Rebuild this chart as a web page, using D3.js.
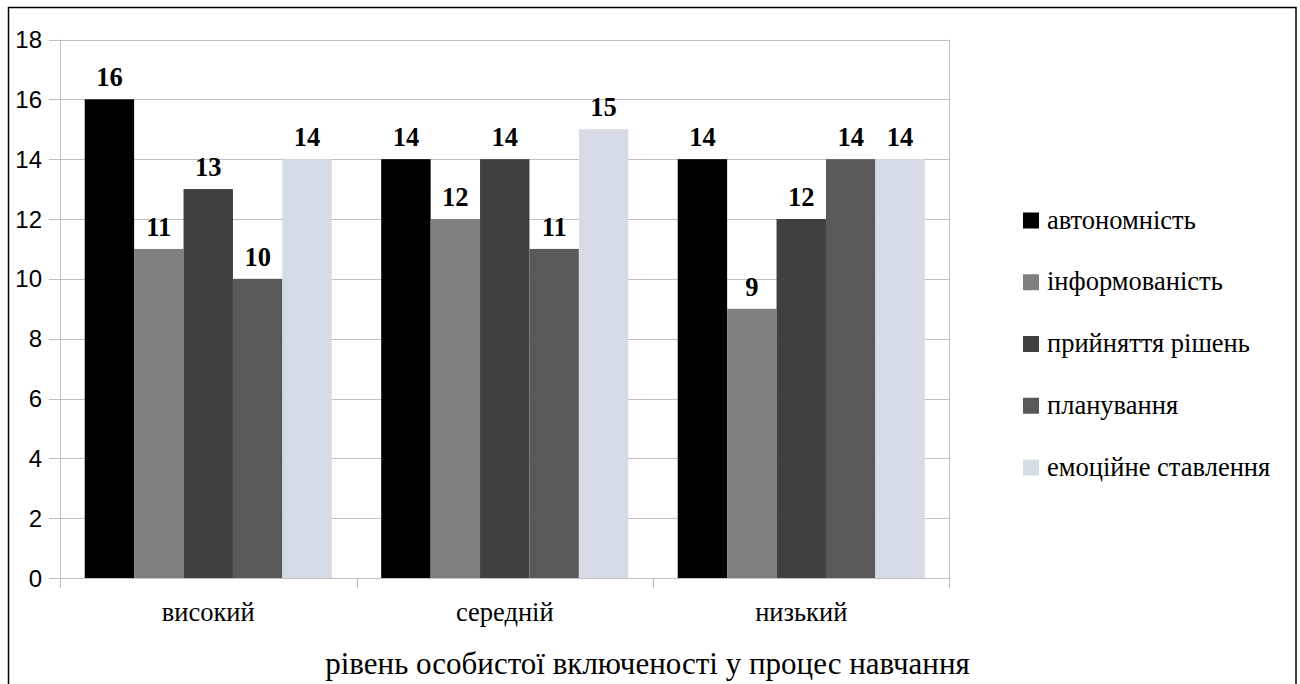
<!DOCTYPE html>
<html>
<head>
<meta charset="utf-8">
<script src="https://cdn.jsdelivr.net/npm/d3@7"></script>
<style>
  body { margin: 0; background: #fff; }
  svg { display: block; }
  .serif { font-family: "Liberation Serif"; }
  .sans { font-family: "Liberation Sans"; }
</style>
</head>
<body>
<div id="chart"></div>
<script>
// data
const levels = ["високий", "середній", "низький"];
const seriesNames = ["автономність", "інформованість", "прийняття рішень", "планування", "емоційне ставлення"];
const seriesColors = ["#000000", "#808080", "#404040", "#595959", "#d6dce5"];
const autonomy = [16, 14, 14];
const awareness = [11, 12, 9];
const decisions = [13, 14, 12];
const planning = [10, 11, 14];
const emotional = [14, 15, 14];
const yTicks = [0, 2, 4, 6, 8, 10, 12, 14, 16, 18];
const xTitle = "рівень особистої включеності у процес навчання";

const seriesValues = [autonomy, awareness, decisions, planning, emotional];

const W = 1300, H = 684;
const plot = {left: 60, top: 39.5, right: 949.5, bottom: 578};

const svg = d3.select("#chart").append("svg")
    .attr("width", W)
    .attr("height", H);

// outer frame
svg.append("rect")
    .attr("x", 8.5).attr("y", 7.5)
    .attr("width", 1287.5).attr("height", 700)
    .attr("fill", "none")
    .attr("stroke", "#000")
    .attr("stroke-width", 1.5);

let x0 = d3.scaleBand()
    .domain(levels)
    .range([plot.left, plot.right])
    .paddingInner(0)
    .paddingOuter(0);

let x1 = d3.scaleBand()
    .domain(seriesNames)
    .range([0, x0.bandwidth()])
    .paddingOuter(0.5)
    .paddingInner(0);

let y = d3.scaleLinear()
    .domain([0, 18])
    .range([plot.bottom, plot.top]);

// gridlines
svg.append("g")
    .selectAll("line")
    .data(yTicks)
    .enter()
    .append("line")
    .attr("x1", plot.left - 11)
    .attr("x2", plot.right)
    .attr("y1", d => Math.round(y(d)) + 0.5)
    .attr("y2", d => Math.round(y(d)) + 0.5)
    .attr("stroke", "#c0c0c0")
    .attr("stroke-width", 1);

// right border of plot area
svg.append("line")
    .attr("x1", plot.right).attr("x2", plot.right)
    .attr("y1", plot.top).attr("y2", plot.bottom + 10)
    .attr("stroke", "#c0c0c0");

// y axis labels
svg.append("g")
    .selectAll("text")
    .data(yTicks)
    .enter()
    .append("text")
    .attr("class", "sans")
    .attr("x", 42)
    .attr("y", d => y(d) + 8.5)
    .attr("text-anchor", "end")
    .style("font-size", "24px")
    .text(d => d);

// bars
const groups = svg.append("g")
    .selectAll("g")
    .data(levels)
    .enter()
    .append("g")
    .attr("transform", d => "translate(" + x0(d) + ",0)");

groups.selectAll("rect")
    .data((d, i) => seriesNames.map((s, j) => ({series: s, value: seriesValues[j][i], color: seriesColors[j]})))
    .enter()
    .append("rect")
    .attr("x", d => x1(d.series))
    .attr("y", d => y(d.value))
    .attr("width", x1.bandwidth())
    .attr("height", d => y(0) - y(d.value))
    .style("fill", d => d.color);

groups.selectAll("text")
    .data((d, i) => seriesNames.map((s, j) => ({series: s, value: seriesValues[j][i]})))
    .enter()
    .append("text")
    .attr("class", "serif")
    .attr("x", d => x1(d.series) + x1.bandwidth() / 2)
    .attr("y", d => y(d.value) - 13)
    .attr("text-anchor", "middle")
    .style("font-weight", "bold")
    .style("font-size", "26.5px")
    .text(d => d.value);

// y axis line
svg.append("line")
    .attr("x1", plot.left + 0.5).attr("x2", plot.left + 0.5)
    .attr("y1", plot.top).attr("y2", plot.bottom + 10)
    .attr("stroke", "#c0c0c0");

// category separators
svg.append("g")
    .selectAll("line")
    .data(levels.slice(1))
    .enter()
    .append("line")
    .attr("x1", d => Math.round(x0(d)) + 0.5)
    .attr("x2", d => Math.round(x0(d)) + 0.5)
    .attr("y1", plot.bottom)
    .attr("y2", plot.bottom + 10)
    .attr("stroke", "#c0c0c0");

// category labels
svg.append("g")
    .selectAll("text")
    .data(levels)
    .enter()
    .append("text")
    .attr("class", "serif")
    .attr("x", d => x0(d) + x0.bandwidth() / 2)
    .attr("y", 621)
    .attr("text-anchor", "middle")
    .style("font-size", "26.5px")
    .text(d => d);

svg.append("text")
    .attr("class", "serif")
    .attr("x", 647.5)
    .attr("y", 674)
    .attr("text-anchor", "middle")
    .style("font-size", "31px")
    .text(xTitle);

// legend
const legend = svg.append("g")
    .selectAll("g")
    .data(seriesNames)
    .enter()
    .append("g")
    .attr("transform", (d, i) => "translate(1023," + (228.5 + i * 61.75) + ")");

legend.append("rect")
    .attr("x", 0).attr("y", -16)
    .attr("width", 16).attr("height", 16)
    .style("fill", (d, i) => seriesColors[i]);

legend.append("text")
    .attr("class", "serif")
    .attr("x", 24)
    .attr("y", 0)
    .style("font-size", "26.5px")
    .text(d => d);
</script>
</body>
</html>
